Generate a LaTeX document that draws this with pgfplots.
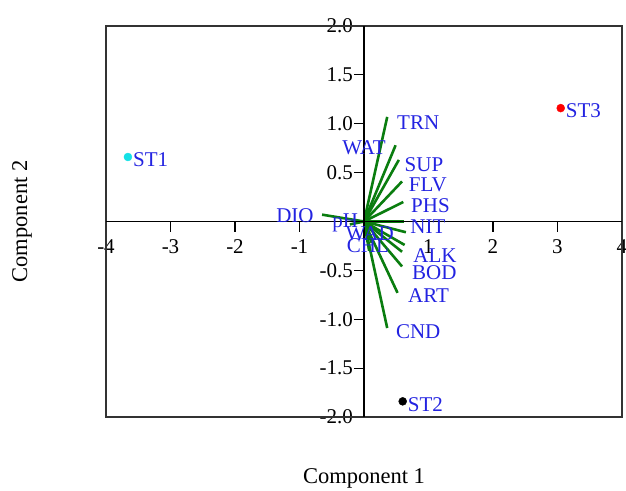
\documentclass[border=0pt]{standalone}
\usepackage{pgfplots}
\pgfplotsset{compat=1.18}
\usepackage{fontspec}
\setmainfont{Liberation Serif}
\definecolor{lblue}{RGB}{35,35,225}
\definecolor{vgreen}{RGB}{10,125,15}
\definecolor{stcyan}{RGB}{20,225,230}
\begin{document}
\begin{tikzpicture}
\useasboundingbox (0,0) rectangle (626pt,490pt);
\begin{axis}[
  at={(106pt,73pt)}, anchor=south west,
  scale only axis, width=516pt, height=391pt,
  xmin=-4, xmax=4, ymin=-2, ymax=2,
  axis lines=middle,
  axis line style={line width=1.3pt, -},
  tick align=outside,
  major tick length=10pt,
  every tick/.style={black, line width=1.2pt},
  xtick={-4,-3,-2,-1,1,2,3,4},
  xticklabels={-4,-3,-2,-1,1,2,3,4},
  ytick={-2,-1.5,-1,-0.5,0.5,1,1.5,2},
  yticklabels={-2.0,-1.5,-1.0,-0.5,0.5,1.0,1.5,2.0},
  ticklabel style={font=\fontsize{21}{25}\selectfont, black},
  xticklabel style={yshift=-5pt},
  yticklabel style={inner sep=1pt},
  xlabel={Component 1},
  ylabel={Component 2},
  xlabel style={at={(rel axis cs:0.5,0)}, anchor=center, yshift=-61pt, font=\fontsize{22.5}{26}\selectfont},
  ylabel style={at={(rel axis cs:0,0.5)}, anchor=center, rotate=90, yshift=84pt, font=\fontsize{22.5}{26}\selectfont},
  clip=false,
]
\draw[line width=1.3pt, black!80] (rel axis cs:0,0) rectangle (rel axis cs:1,1);
% loading vectors
\addplot[vgreen, line width=2.6pt] coordinates {(0,0) (0.36,1.07)};
\addplot[vgreen, line width=2.6pt] coordinates {(0,0) (0.49,0.78)};
\addplot[vgreen, line width=2.6pt] coordinates {(0,0) (0.54,0.63)};
\addplot[vgreen, line width=2.6pt] coordinates {(0,0) (0.59,0.41)};
\addplot[vgreen, line width=2.6pt] coordinates {(0,0) (0.61,0.20)};
\addplot[vgreen, line width=2.6pt] coordinates {(0,0) (0.62,0.00)};
\addplot[vgreen, line width=2.6pt] coordinates {(0,0) (0.65,-0.11)};
\addplot[vgreen, line width=2.6pt] coordinates {(0,0) (0.63,-0.24)};
\addplot[vgreen, line width=2.6pt] coordinates {(0,0) (0.59,-0.31)};
\addplot[vgreen, line width=2.6pt] coordinates {(0,0) (0.59,-0.46)};
\addplot[vgreen, line width=2.6pt] coordinates {(0,0) (0.52,-0.73)};
\addplot[vgreen, line width=2.6pt] coordinates {(0,0) (0.36,-1.09)};
\addplot[vgreen, line width=2.6pt] coordinates {(0,0) (-0.65,0.07)};
\addplot[vgreen, line width=2.6pt] coordinates {(0,0) (-0.22,-0.03)};
\addplot[vgreen, line width=2.6pt] coordinates {(0,0) (0.12,-0.22)};
\addplot[vgreen, line width=2.6pt] coordinates {(0,0) (0.08,-0.30)};
% axis lines redrawn on top
\draw[line width=1.3pt, black] (axis cs:-4,0) -- (axis cs:4,0);
\draw[line width=1.3pt, black] (axis cs:0,-2) -- (axis cs:0,2);
% variable labels
\addplot[draw=none, mark=none, nodes near coords, point meta=explicit symbolic,
  nodes near coords style={anchor=center, inner sep=0pt, text=lblue, font=\fontsize{21}{25}\selectfont}]
  table[meta=lab] {
x y lab
0.84 1.01 TRN
0.00 0.75 WAT
0.93 0.58 SUP
0.99 0.38 FLV
1.03 0.16 PHS
0.99 -0.05 NIT
1.10 -0.35 ALK
1.09 -0.52 BOD
1.00 -0.76 ART
0.84 -1.13 CND
-1.07 0.06 DIO
-0.29 -0.01 pH
0.09 -0.13 WAD
0.06 -0.25 CHL
};
% station scores
\addplot[only marks, mark=*, mark size=4pt, stcyan] coordinates {(-3.66,0.66)};
\addplot[only marks, mark=*, mark size=4pt, red] coordinates {(3.05,1.16)};
\addplot[only marks, mark=*, mark size=4pt, black] coordinates {(0.60,-1.84)};
\addplot[draw=none, mark=none, nodes near coords, point meta=explicit symbolic,
  nodes near coords style={anchor=west, inner sep=0pt, xshift=5pt, yshift=-3pt, text=lblue, font=\fontsize{21}{25}\selectfont}]
  table[meta=lab] {
x y lab
-3.66 0.66 ST1
3.05 1.16 ST3
0.60 -1.84 ST2
};
\end{axis}
\end{tikzpicture}
\end{document}
